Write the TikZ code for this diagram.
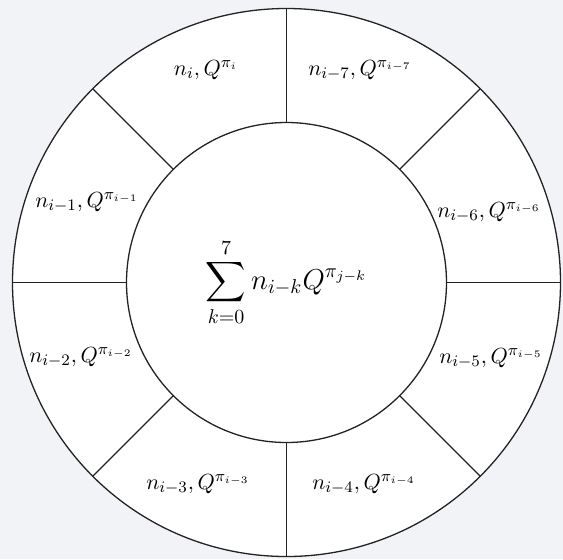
\documentclass[tikz,border=0pt]{standalone}
\usepackage{amsmath,amssymb}
\usepackage{tikz}
\usetikzlibrary{positioning}
\definecolor{pagebg}{RGB}{241,243,246}
\definecolor{ringline}{RGB}{35,35,35}

\begin{document}
\begin{tikzpicture}[x=0.5pt,y=-0.5pt,
  ring/.style={draw=ringline,line width=0.65pt},
  slot/.style={font=\fontsize{11}{13}\selectfont,inner sep=0pt}]
\fill[pagebg] (0,0) rectangle (563,559);
\coordinate (c) at (286.5,282.5);
\draw[ring,fill=white] (c) circle[radius=137pt];
\draw[ring] (c) circle[radius=80pt];
\foreach \a in {0,45,...,315}
  \draw[ring] ([shift={(\a:80pt)}]c) -- ([shift={(\a:137pt)}]c);
% sum in the middle
\node[font=\fontsize{14}{17}\selectfont] (sum) at (c) {$\displaystyle\sum_{k=0}^{7} n_{i-k}Q^{\pi_{j-k}}$};
% the eight slots
\node[slot] (s0) at (206,70) {$n_i, Q^{\pi_i}$};
\node[slot] (s7) at (360,70) {$n_{i-7}, Q^{\pi_{i-7}}$};
\node[slot] (s6) at (489,212) {$n_{i-6}, Q^{\pi_{i-6}}$};
\node[slot] (s5) at (491,358) {$n_{i-5}, Q^{\pi_{i-5}}$};
\node[slot] (s4) at (364,484) {$n_{i-4}, Q^{\pi_{i-4}}$};
\node[slot] (s3) at (198,484) {$n_{i-3}, Q^{\pi_{i-3}}$};
\node[slot] (s2) at (81,357) {$n_{i-2}, Q^{\pi_{i-2}}$};
\node[slot] (s1) at (87,202) {$n_{i-1}, Q^{\pi_{i-1}}$};
\end{tikzpicture}
\end{document}
